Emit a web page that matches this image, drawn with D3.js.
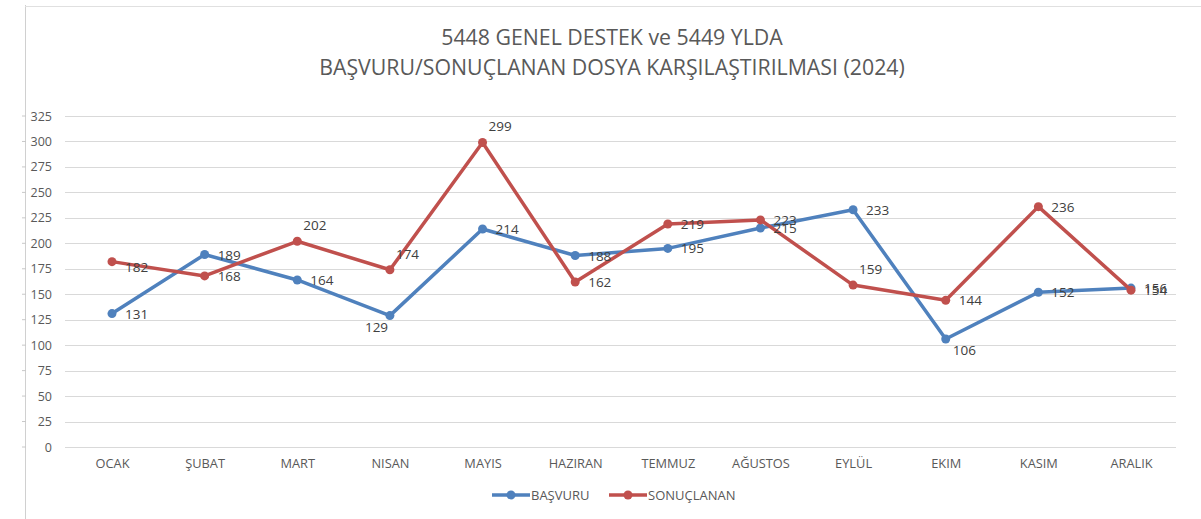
<!DOCTYPE html>
<html><head><meta charset="utf-8">
<script src="https://cdn.jsdelivr.net/npm/d3@7"></script>
<style>body{margin:0;background:#fff}svg{display:block}</style>
</head><body>
<svg id="c" width="1201" height="519"></svg>
<script>
const months = ["OCAK","ŞUBAT","MART","NISAN","MAYIS","HAZIRAN","TEMMUZ","AĞUSTOS","EYLÜL","EKIM","KASIM","ARALIK"];
const basvuru = [131,189,164,129,214,188,195,215,233,106,152,156];
const sonuclanan = [182,168,202,174,299,162,219,223,159,144,236,154];
const basvuruLabelPos = ["r","r","r","b","r","r","r","r","r","br","r","r"];
const sonuclananLabelPos = ["rb","r","ar","ar","ar","r","r","r","ar","r","r","r"];
const yTicks = [0,25,50,75,100,125,150,175,200,225,250,275,300,325];
const titleLines = ["5448 GENEL DESTEK ve 5449 YLDA","BAŞVURU/SONUÇLANAN DOSYA KARŞILAŞTIRILMASI (2024)"];
const seriesNames = ["BAŞVURU","SONUÇLANAN"];
const colors = ["#4F81BD","#C0504D"];

const svg = d3.select("#c");
const font = "'Open Sans', 'Noto Sans', sans-serif";

// sheet frame lines
svg.append("line").attr("x1",25.5).attr("x2",25.5).attr("y1",5).attr("y2",519).attr("stroke","#d0d0d0");
svg.append("line").attr("x1",25).attr("x2",1201).attr("y1",6.5).attr("y2",6.5).attr("stroke","#e0e0e0");

const x = d3.scalePoint().domain(months).range([112,1131]);
const y = d3.scaleLinear().domain([0,325]).range([447,116]);

// gridlines
svg.append("g").selectAll("line").data(yTicks).join("line")
  .attr("x1",65).attr("x2",1176)
  .attr("y1",d=>Math.round(y(d))+0.5).attr("y2",d=>Math.round(y(d))+0.5)
  .attr("stroke","#d9d9d9").attr("stroke-width",1);

// y axis labels
const yAxis = d3.axisLeft(y).tickValues(yTicks).tickSize(0).tickPadding(0);
const gy = svg.append("g").attr("transform","translate(52,0)").call(yAxis);
gy.select(".domain").remove();
gy.selectAll("text").attr("font-family",font).attr("font-size",12.5).attr("fill","#595959");
// little frame ticks at the left line
svg.append("g").selectAll("line").data(yTicks).join("line")
  .attr("x1",22).attr("x2",26).attr("y1",d=>y(d)).attr("y2",d=>y(d)).attr("stroke","#c8c8c8");

// x axis labels
const xAxis = d3.axisBottom(x).tickSize(0).tickPadding(0);
const gx = svg.append("g").attr("transform","translate(0,459)").call(xAxis);
gx.select(".domain").remove();
gx.selectAll("text").attr("font-family",font).attr("font-size",12.8).attr("fill","#595959");

// title
svg.append("g").selectAll("text").data(titleLines).join("text")
  .attr("x",612).attr("y",(d,i)=>45+i*30).attr("text-anchor","middle")
  .attr("font-family",font).attr("font-size",21.3).attr("fill","#595959").text(d=>d);

const line = d3.line().x((d,i)=>x(months[i])).y(d=>y(d));
const allSeries = [basvuru, sonuclanan];
const allPos = [basvuruLabelPos, sonuclananLabelPos];
const offs = {r:[13,5], rb:[13,10], ar:[6,-11], b:[-25,16], br:[7,16]};

allSeries.forEach((s,si)=>{
  const g = svg.append("g");
  g.append("path").datum(s).attr("d",line).attr("fill","none")
    .attr("stroke",colors[si]).attr("stroke-width",3.5).attr("stroke-linejoin","round");
  g.selectAll("circle").data(s).join("circle")
    .attr("cx",(d,i)=>x(months[i])).attr("cy",d=>y(d)).attr("r",4.5).attr("fill",colors[si]);
});
allSeries.forEach((s,si)=>{
  svg.append("g").selectAll("text").data(s).join("text")
    .attr("x",(d,i)=>x(months[i])+offs[allPos[si][i]][0])
    .attr("y",(d,i)=>y(d)+offs[allPos[si][i]][1])
    .attr("font-family",font).attr("font-size",13.5).attr("fill","#404040").text(d=>d);
});

// legend
const leg = svg.append("g").attr("transform","translate(0,495)");
const legX = [492,609];
seriesNames.forEach((n,i)=>{
  leg.append("line").attr("x1",legX[i]).attr("x2",legX[i]+38).attr("y1",0).attr("y2",0)
    .attr("stroke",colors[i]).attr("stroke-width",3.5);
  leg.append("circle").attr("cx",legX[i]+19).attr("cy",0).attr("r",4.5).attr("fill",colors[i]);
  leg.append("text").attr("x",legX[i]+39).attr("y",5).attr("font-family",font)
    .attr("font-size",13).attr("fill","#595959").text(n);
});
</script>
</body></html>
